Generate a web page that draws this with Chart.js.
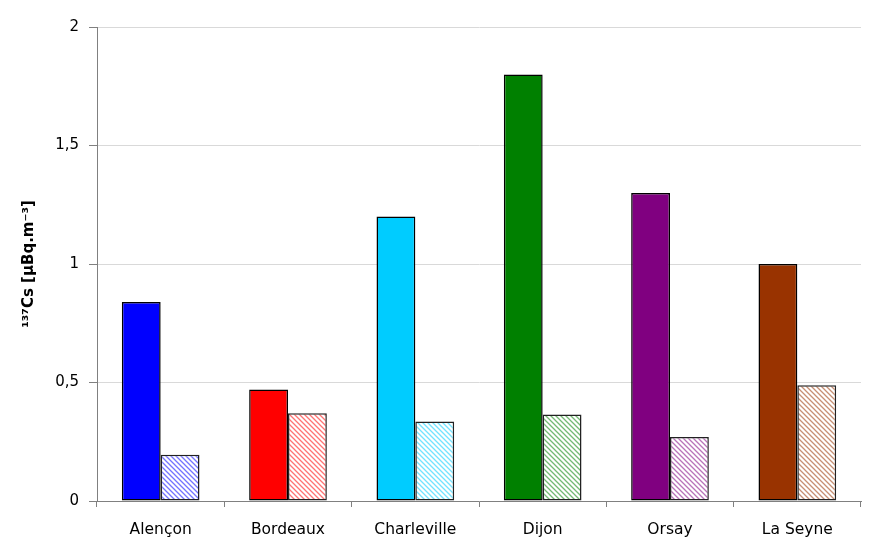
<!DOCTYPE html>
<html>
<head>
<meta charset="utf-8">
<script src="https://cdn.jsdelivr.net/npm/chart.js@4/dist/chart.umd.min.js"></script>
<style>
  html, body { margin: 0; padding: 0; background: #fff; }
  #wrap { width: 873px; height: 543px; }
</style>
</head>
<body>
<div id="wrap"><canvas id="csChart"></canvas></div>
<script>
const sites = ['Alençon', 'Bordeaux', 'Charleville', 'Dijon', 'Orsay', 'La Seyne'];
const solidValues = [0.84, 0.47, 1.2, 1.8, 1.3, 1.0];
const hatchedValues = [0.195, 0.37, 0.335, 0.365, 0.27, 0.488];
const siteColors = ['#0000ff', '#ff0000', '#00ccff', '#008000', '#800080', '#993300'];
const yTicks = [0, 0.5, 1, 1.5, 2];

// diagonal stripes on white, same colour as the solid bar
function hatch(color) {
  const s = 5;
  const c = document.createElement('canvas');
  c.width = s; c.height = s;
  const g = c.getContext('2d');
  g.fillStyle = '#fff';
  g.fillRect(0, 0, s, s);
  g.strokeStyle = color;
  g.globalAlpha = 0.55;
  g.lineWidth = 1.3;
  g.beginPath();
  g.moveTo(-1, -1); g.lineTo(s + 1, s + 1);
  g.moveTo(-1, s - 1); g.lineTo(1, s + 1);
  g.moveTo(s - 1, -1); g.lineTo(s + 1, 1);
  g.stroke();
  return g.createPattern(c, 'repeat');
}

new Chart(document.getElementById('csChart'), {
  type: 'bar',
  data: {
    labels: sites,
    datasets: [
      {
        data: solidValues,
        backgroundColor: siteColors,
        borderColor: '#000',
        borderWidth: 1.5,
        borderSkipped: false
      },
      {
        data: hatchedValues,
        backgroundColor: siteColors.map(hatch),
        borderColor: '#222',
        borderWidth: 1.5,
        borderSkipped: false
      }
    ]
  },
  options: {
    responsive: true,
    maintainAspectRatio: false,
    animation: false,
    layout: { padding: { top: 27, right: 12, left: 0, bottom: 0 } },
    datasets: { bar: { categoryPercentage: 0.61, barPercentage: 1 } },
    plugins: {
      legend: { display: false },
      tooltip: { enabled: false }
    },
    scales: {
      x: {
        grid: { offset: true, drawOnChartArea: false, tickLength: 6, tickColor: '#808080' },
        border: { color: '#808080' },
        ticks: { color: '#000', padding: 14, font: { family: 'DejaVu Sans', size: 15.5 } },
        afterFit: s => { s.height = 42; }
      },
      y: {
        min: 0,
        max: 2,
        afterBuildTicks: s => { s.ticks = yTicks.map(v => ({ value: v })); },
        grid: { color: '#d9d9d9', tickLength: 8, tickColor: '#808080' },
        border: { color: '#808080' },
        ticks: {
          color: '#000',
          padding: 10,
          font: { family: 'DejaVu Sans', size: 15 },
          callback: v => String(v).replace('.', ',')
        },
        title: {
          display: true,
          text: '¹³⁷Cs [µBq.m⁻³]',
          color: '#000',
          font: { family: 'DejaVu Sans', size: 15, weight: 'bold' },
          padding: { top: 20, bottom: 0 }
        },
        afterFit: s => { s.width = 97; }
      }
    }
  }
});
</script>
</body>
</html>
